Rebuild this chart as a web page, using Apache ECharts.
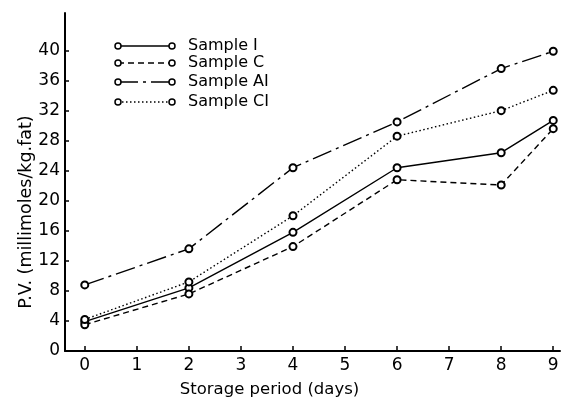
<!DOCTYPE html>
<html><head><meta charset="utf-8">
<script src="https://cdn.jsdelivr.net/npm/echarts@6/dist/echarts.min.js"></script>
<style>html,body{margin:0;padding:0;background:#fff}#c{width:563px;height:400px}</style>
</head><body><div id="c"></div>
<script>
const days = [0, 2, 4, 6, 8, 9];
const sampleI  = [3.9, 8.4, 15.8, 24.4, 26.4, 30.7];
const sampleC  = [3.5, 7.6, 13.9, 22.8, 22.1, 29.6];
const sampleAI = [8.8, 13.6, 24.4, 30.5, 37.6, 39.9];
const sampleCI = [4.2, 9.2, 18.0, 28.6, 32.0, 34.7];
const xTicks = [0, 1, 2, 3, 4, 5, 6, 7, 8, 9];
const yTicks = [0, 4, 8, 12, 16, 20, 24, 28, 32, 36, 40];
const names = ['Sample I', 'Sample C', 'Sample AI', 'Sample CI'];
const dashes = ['solid', [6, 4], [20, 5, 3, 5], [1.5, 2.5]];
const values = [sampleI, sampleC, sampleAI, sampleCI];

const FONT = 'DejaVu Sans';
const chart = echarts.init(document.getElementById('c'), null, {renderer: 'canvas'});

const series = names.map((n, i) => ({
  name: n, type: 'line',
  data: days.map((d, k) => [d, values[i][k]]),
  symbol: 'emptyCircle', symbolSize: 7, showSymbol: true,
  itemStyle: {color: '#000', borderColor: '#000', borderWidth: 1.5},
  lineStyle: {color: '#000', width: 1.4, type: dashes[i]},
  z: 3
}));

// legend drawn as graphic (line with circles at both ends)
const legendRows = [46, 63, 82, 102];
const graphic = [];
names.forEach((n, i) => {
  const y = legendRows[i];
  graphic.push({type: 'line', shape: {x1: 118, y1: y, x2: 172, y2: y},
    style: {stroke: '#000', lineWidth: 1.4, lineDash: dashes[i] === 'solid' ? null : dashes[i]}});
  graphic.push({type: 'circle', shape: {cx: 118, cy: y, r: 3}, style: {fill: '#fff', stroke: '#000', lineWidth: 1.5}});
  graphic.push({type: 'circle', shape: {cx: 172, cy: y, r: 3}, style: {fill: '#fff', stroke: '#000', lineWidth: 1.5}});
  graphic.push({type: 'text', x: 188, y: y, style: {text: n, font: '16px "' + FONT + '"', fill: '#000', verticalAlign: 'middle'}});
});

chart.setOption({
  animation: false,
  backgroundColor: '#fff',
  grid: {left: 65, top: 13, right: 3, bottom: 49, outerBoundsMode: 'none', containLabel: false},
  xAxis: {
    type: 'value', min: -0.38, max: 9.13,
    name: 'Storage period (days)', nameLocation: 'middle', nameGap: 30, nameMoveOverlap: false,
    nameTextStyle: {fontFamily: FONT, fontSize: 16.5, color: '#000', padding: [0, 86, 0, 0]},
    axisLine: {lineStyle: {color: '#000', width: 2}},
    axisTick: {inside: true, length: 5, lineStyle: {color: '#000', width: 1.5}, customValues: xTicks},
    axisLabel: {fontFamily: FONT, fontSize: 17, color: '#000', margin: 6, customValues: xTicks},
    splitLine: {show: false}
  },
  yAxis: {
    type: 'value', min: 0, max: 45,
    name: 'P.V. (millimoles/kg.fat)', nameLocation: 'middle', nameGap: 30, nameMoveOverlap: false,
    nameTextStyle: {fontFamily: FONT, fontSize: 17.5, color: '#000', padding: [0, 60, 0, 0]},
    axisLine: {show: true, onZero: false, lineStyle: {color: '#000', width: 2}},
    axisTick: {show: true, inside: true, length: 4, lineStyle: {color: '#000', width: 1.5}, customValues: yTicks},
    axisLabel: {fontFamily: FONT, fontSize: 17, color: '#000', margin: 5, customValues: yTicks},
    splitLine: {show: false}
  },
  series: series,
  graphic: graphic
});
</script></body></html>
